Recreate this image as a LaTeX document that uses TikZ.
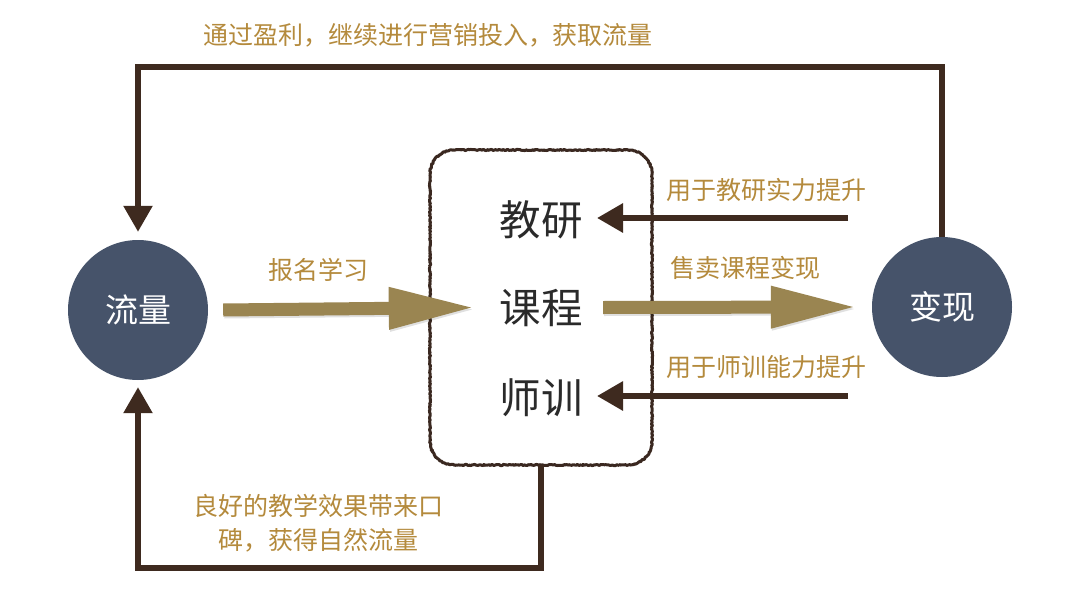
\documentclass[tikz,border=0pt]{standalone}
\usepackage{fontspec}
\setmainfont{Noto Sans CJK SC}
\usetikzlibrary{decorations.pathmorphing,arrows.meta}
\definecolor{brn}{HTML}{3E2A1F}
\definecolor{boxbrn}{HTML}{3A2820}
\definecolor{gold}{HTML}{B48A3C}
\definecolor{olive}{HTML}{9A8551}
\definecolor{slate}{HTML}{46536A}
\definecolor{ink}{HTML}{2A2A2A}
\tikzset{
  hub/.style={circle, fill=slate, minimum size=140pt, inner sep=0pt, text=white, font=\fontsize{33}{38}\selectfont},
  boxtxt/.style={text=ink, font=\fontsize{41.5}{46}\selectfont, inner sep=0pt},
  lbl/.style={text=gold, font=\fontsize{25}{34.5}\selectfont, inner sep=0pt, align=center},
  fat/.style={olive, line width=13pt, -{Triangle[length=86pt,width=39pt]}},
  fatshadow/.style={black, opacity=0.12, line width=13pt, -{Triangle[length=86pt,width=39pt]}},
  thin/.style={brn, line width=6pt, -{Triangle[length=26pt,width=28pt]}},
  loopline/.style={brn, line width=5.5pt, -{Triangle[length=26pt,width=28pt]}},
  rough/.style={draw=boxbrn, line width=3pt, line join=round, decorate,
    decoration={random steps, segment length=1.2pt, amplitude=0.6pt}}
}
\begin{document}
\begin{tikzpicture}[x=1pt,y=-1pt]
\useasboundingbox (0,0) rectangle (1080,605);
\fill[white] (0,0) rectangle (1080,605);

% circles
\node[hub] (flow) at (138,310) {流量};
\node[hub] (cash) at (942,307) {变现};

% box (anchor node + hand-drawn outline)
\node[minimum width=222pt, minimum height=315pt, inner sep=0pt] (box) at (541,307.5) {};
\draw[rough] (454,150) -- (628,150) .. controls (641.25,150) and (652,160.75) .. (652,174)
  -- (652,441) .. controls (652,454.25) and (641.25,465) .. (628,465)
  -- (454,465) .. controls (440.75,465) and (430,454.25) .. (430,441)
  -- (430,174) .. controls (430,160.75) and (440.75,150) .. (454,150) -- cycle;
\node[boxtxt] (jy) at (541,220) {教研};
\node[boxtxt] (kc) at (541,308) {课程};
\node[boxtxt] (sx) at (541,398) {师训};

% fat arrows
\draw[fatshadow] ([xshift=16pt,yshift=-2pt]flow.east) -- ([xshift=46pt,yshift=-2pt]box.west);
\draw[fatshadow] ([xshift=-48pt,yshift=-2pt]box.east) -- ([xshift=-14pt,yshift=-2pt]cash.west);
\draw[fat] ([xshift=15pt]flow.east) -- ([xshift=45pt]box.west);
\draw[fat] ([xshift=-49pt]box.east) -- ([xshift=-15pt]cash.west);

% thin arrows
\coordinate (t1s) at (848,218);
\coordinate (t1e) at (597,218);
\coordinate (t2s) at (848,396);
\coordinate (t2e) at (597,396);
\draw[thin] (t1s) -- (t1e);
\draw[thin] (t2s) -- (t2e);

% loops
\coordinate (topy) at (0,67);
\coordinate (boty) at (0,568);
\draw[loopline] (cash.north) -- (cash.north |- topy) -| ([yshift=8pt]flow.north);
\draw[loopline] (box.south) -- (box.south |- boty) -| ([yshift=-7pt]flow.south);

% labels
\node[lbl] (ltop) at (428,35) {通过盈利，继续进行营销投入，获取流量};
\node[lbl] (lbm) at (318,270) {报名学习};
\node[lbl] (lsell) at (745,268) {售卖课程变现};
\node[lbl] (ljy) at (766,190) {用于教研实力提升};
\node[lbl] (lsx) at (766,367) {用于师训能力提升};
\node[lbl] (lbot) at (318,523) {良好的教学效果带来口\\碑，获得自然流量};
\end{tikzpicture}
\end{document}
